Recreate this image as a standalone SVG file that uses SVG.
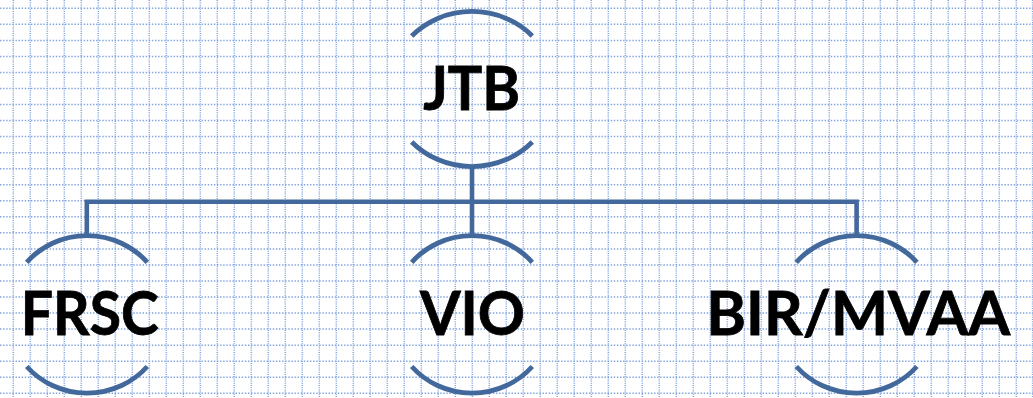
<svg xmlns="http://www.w3.org/2000/svg" width="1033" height="398" viewBox="0 0 1033 398">
<style>
.gv{fill:none;stroke:#7fa3de;stroke-width:1.5;stroke-dasharray:1 1.2}
.gh{fill:none;stroke:#7fa3de;stroke-width:1.5;stroke-dasharray:1.4 1.7}
.arc{fill:none;stroke:#43699c;stroke-width:4.8;stroke-linecap:butt}
.conn{fill:none;stroke:#43699c;stroke-width:4.6;stroke-linejoin:miter}
.lbl{font-family:Lato,"Liberation Sans",sans-serif;font-weight:700;font-size:62px;fill:#000;text-anchor:middle;stroke:#000;stroke-width:0.8}
</style>
<rect width="1033" height="398" fill="#fff"/>
<g id="grid">
<path class="gv" d="M13.3 0V398M30.3 0V398M47.3 0V398M64.3 0V398M81.3 0V398M98.3 0V398M115.3 0V398M132.3 0V398M149.3 0V398M166.3 0V398M183.3 0V398M200.3 0V398M217.3 0V398M234.3 0V398M251.3 0V398M268.3 0V398M285.3 0V398M302.3 0V398M319.3 0V398M336.3 0V398M353.3 0V398M370.3 0V398M387.3 0V398M404.3 0V398M421.3 0V398M438.3 0V398M455.3 0V398M472.3 0V398M489.3 0V398M506.3 0V398M523.3 0V398M540.3 0V398M557.3 0V398M574.3 0V398M591.3 0V398M608.3 0V398M625.3 0V398M642.3 0V398M659.3 0V398M676.3 0V398M693.3 0V398M710.3 0V398M727.3 0V398M744.3 0V398M761.3 0V398M778.3 0V398M795.3 0V398M812.3 0V398M829.3 0V398M846.3 0V398M863.3 0V398M880.3 0V398M897.3 0V398M914.3 0V398M931.3 0V398M948.3 0V398M965.3 0V398M982.3 0V398M999.3 0V398M1016.3 0V398M1032.6 0V398"/>
<path class="gh" d="M0 8.3H1033M0 24.34H1033M0 40.38H1033M0 56.42H1033M0 72.46H1033M0 88.5H1033M0 104.54H1033M0 120.58H1033M0 136.62H1033M0 152.66H1033M0 168.7H1033M0 184.74H1033M0 200.78H1033M0 216.82H1033M0 232.86H1033M0 248.9H1033M0 264.94H1033M0 280.98H1033M0 297.02H1033M0 313.06H1033M0 329.1H1033M0 345.14H1033M0 361.18H1033M0 377.22H1033M0 393.26H1033"/>
</g>
<g id="connectors">
<path class="conn" d="M472 166.5V235.5"/>
<path class="conn" d="M86.8 235.5V201.7H856.6V235.5"/>
</g>
<g id="node-jtb">
<path class="arc" d="M411.7 36A82.6 77.5 0 0 1 532.3 36"/>
<path class="arc" d="M411.7 142A82.6 77.5 0 0 0 532.3 142"/>
<text class="lbl" x="471.7" y="110" textLength="97" lengthAdjust="spacingAndGlyphs">JTB</text>
</g>
<g id="node-frsc">
<path class="arc" d="M26.7 262.3A80.5 79 0 0 1 147.3 262.3"/>
<path class="arc" d="M26.7 366.5A80.5 79 0 0 0 147.3 366.5"/>
<text class="lbl" x="89.7" y="335" textLength="138" lengthAdjust="spacingAndGlyphs">FRSC</text>
</g>
<g id="node-vio">
<path class="arc" d="M411.7 262.3A80.5 79 0 0 1 532.3 262.3"/>
<path class="arc" d="M411.7 366.5A80.5 79 0 0 0 532.3 366.5"/>
<text class="lbl" x="472.5" y="335" textLength="105" lengthAdjust="spacingAndGlyphs">VIO</text>
</g>
<g id="node-bir">
<path class="arc" d="M796.3 262.3A80.5 79 0 0 1 916.9 262.3"/>
<path class="arc" d="M796.3 366.5A80.5 79 0 0 0 916.9 366.5"/>
<text class="lbl" x="858.3" y="335" textLength="304" lengthAdjust="spacingAndGlyphs">BIR/MVAA</text>
</g>
</svg>
